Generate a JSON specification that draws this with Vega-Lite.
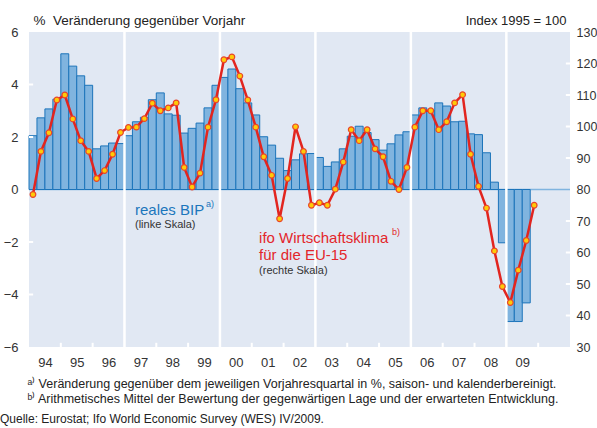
{
  "$schema": "https://vega.github.io/schema/vega-lite/v6.json",
  "width": 541,
  "height": 315,
  "autosize": {"type": "none"},
  "padding": {"left": 29, "top": 32, "right": 27, "bottom": 81},
  "background": "white",
  "config": {
    "view": {"fill": "#e1e8f3", "stroke": null},
    "font": "Liberation Sans",
    "axis": {"grid": false, "domain": false, "ticks": false, "labelColor": "#333333", "titleColor": "#222222", "titleFontWeight": "normal", "labelFont": "Liberation Sans", "titleFont": "Liberation Sans"}
  },
  "title": {
    "text": "Quelle: Eurostat; Ifo World Economic Survey (WES) IV/2009.",
    "orient": "bottom",
    "anchor": "start",
    "frame": "group",
    "dx": -29,
    "offset": 9,
    "fontSize": 12,
    "fontWeight": "normal",
    "color": "#222222",
    "font": "Liberation Sans"
  },
  "datasets": {
    "quartale": [
      {"q": "1994Q1", "von": 1994.0, "bis": 1994.25, "mitte": 1994.125, "bip": 2.05, "ifo": 78.4},
      {"q": "1994Q2", "von": 1994.25, "bis": 1994.5, "mitte": 1994.375, "bip": 2.73, "ifo": 92.1},
      {"q": "1994Q3", "von": 1994.5, "bis": 1994.75, "mitte": 1994.625, "bip": 3.07, "ifo": 98.0},
      {"q": "1994Q4", "von": 1994.75, "bis": 1995.0, "mitte": 1994.875, "bip": 3.44, "ifo": 108.4},
      {"q": "1995Q1", "von": 1995.0, "bis": 1995.25, "mitte": 1995.125, "bip": 5.17, "ifo": 110.0},
      {"q": "1995Q2", "von": 1995.25, "bis": 1995.5, "mitte": 1995.375, "bip": 4.70, "ifo": 102.4},
      {"q": "1995Q3", "von": 1995.5, "bis": 1995.75, "mitte": 1995.625, "bip": 4.33, "ifo": 95.5},
      {"q": "1995Q4", "von": 1995.75, "bis": 1996.0, "mitte": 1995.875, "bip": 3.97, "ifo": 92.1},
      {"q": "1996Q1", "von": 1996.0, "bis": 1996.25, "mitte": 1996.125, "bip": 1.55, "ifo": 83.5},
      {"q": "1996Q2", "von": 1996.25, "bis": 1996.5, "mitte": 1996.375, "bip": 1.66, "ifo": 86.0},
      {"q": "1996Q3", "von": 1996.5, "bis": 1996.75, "mitte": 1996.625, "bip": 1.77, "ifo": 91.2},
      {"q": "1996Q4", "von": 1996.75, "bis": 1997.0, "mitte": 1996.875, "bip": 1.75, "ifo": 98.1},
      {"q": "1997Q1", "von": 1997.0, "bis": 1997.25, "mitte": 1997.125, "bip": 2.05, "ifo": 99.7},
      {"q": "1997Q2", "von": 1997.25, "bis": 1997.5, "mitte": 1997.375, "bip": 2.58, "ifo": 99.8},
      {"q": "1997Q3", "von": 1997.5, "bis": 1997.75, "mitte": 1997.625, "bip": 2.75, "ifo": 102.5},
      {"q": "1997Q4", "von": 1997.75, "bis": 1998.0, "mitte": 1997.875, "bip": 3.42, "ifo": 107.4},
      {"q": "1998Q1", "von": 1998.0, "bis": 1998.25, "mitte": 1998.125, "bip": 3.68, "ifo": 105.0},
      {"q": "1998Q2", "von": 1998.25, "bis": 1998.5, "mitte": 1998.375, "bip": 2.88, "ifo": 105.9},
      {"q": "1998Q3", "von": 1998.5, "bis": 1998.75, "mitte": 1998.625, "bip": 2.83, "ifo": 107.5},
      {"q": "1998Q4", "von": 1998.75, "bis": 1999.0, "mitte": 1998.875, "bip": 2.15, "ifo": 87.0},
      {"q": "1999Q1", "von": 1999.0, "bis": 1999.25, "mitte": 1999.125, "bip": 2.33, "ifo": 80.8},
      {"q": "1999Q2", "von": 1999.25, "bis": 1999.5, "mitte": 1999.375, "bip": 2.53, "ifo": 85.2},
      {"q": "1999Q3", "von": 1999.5, "bis": 1999.75, "mitte": 1999.625, "bip": 3.11, "ifo": 99.8},
      {"q": "1999Q4", "von": 1999.75, "bis": 2000.0, "mitte": 1999.875, "bip": 3.97, "ifo": 108.5},
      {"q": "2000Q1", "von": 2000.0, "bis": 2000.25, "mitte": 2000.125, "bip": 4.27, "ifo": 121.2},
      {"q": "2000Q2", "von": 2000.25, "bis": 2000.5, "mitte": 2000.375, "bip": 4.59, "ifo": 122.1},
      {"q": "2000Q3", "von": 2000.5, "bis": 2000.75, "mitte": 2000.625, "bip": 3.84, "ifo": 116.0},
      {"q": "2000Q4", "von": 2000.75, "bis": 2001.0, "mitte": 2000.875, "bip": 3.30, "ifo": 108.4},
      {"q": "2001Q1", "von": 2001.0, "bis": 2001.25, "mitte": 2001.125, "bip": 2.84, "ifo": 99.8},
      {"q": "2001Q2", "von": 2001.25, "bis": 2001.5, "mitte": 2001.375, "bip": 2.01, "ifo": 90.4},
      {"q": "2001Q3", "von": 2001.5, "bis": 2001.75, "mitte": 2001.625, "bip": 1.69, "ifo": 84.5},
      {"q": "2001Q4", "von": 2001.75, "bis": 2002.0, "mitte": 2001.875, "bip": 1.19, "ifo": 70.7},
      {"q": "2002Q1", "von": 2002.0, "bis": 2002.25, "mitte": 2002.125, "bip": 0.72, "ifo": 83.5},
      {"q": "2002Q2", "von": 2002.25, "bis": 2002.5, "mitte": 2002.375, "bip": 1.13, "ifo": 99.9},
      {"q": "2002Q3", "von": 2002.5, "bis": 2002.75, "mitte": 2002.625, "bip": 1.36, "ifo": 92.1},
      {"q": "2002Q4", "von": 2002.75, "bis": 2003.0, "mitte": 2002.875, "bip": 1.37, "ifo": 75.0},
      {"q": "2003Q1", "von": 2003.0, "bis": 2003.25, "mitte": 2003.125, "bip": 1.22, "ifo": 75.8},
      {"q": "2003Q2", "von": 2003.25, "bis": 2003.5, "mitte": 2003.375, "bip": 0.88, "ifo": 75.0},
      {"q": "2003Q3", "von": 2003.5, "bis": 2003.75, "mitte": 2003.625, "bip": 1.05, "ifo": 80.1},
      {"q": "2003Q4", "von": 2003.75, "bis": 2004.0, "mitte": 2003.875, "bip": 1.55, "ifo": 88.7},
      {"q": "2004Q1", "von": 2004.0, "bis": 2004.25, "mitte": 2004.125, "bip": 2.03, "ifo": 99.0},
      {"q": "2004Q2", "von": 2004.25, "bis": 2004.5, "mitte": 2004.375, "bip": 2.41, "ifo": 95.5},
      {"q": "2004Q3", "von": 2004.5, "bis": 2004.75, "mitte": 2004.625, "bip": 2.17, "ifo": 99.0},
      {"q": "2004Q4", "von": 2004.75, "bis": 2005.0, "mitte": 2004.875, "bip": 1.90, "ifo": 92.9},
      {"q": "2005Q1", "von": 2005.0, "bis": 2005.25, "mitte": 2005.125, "bip": 1.50, "ifo": 90.4},
      {"q": "2005Q2", "von": 2005.25, "bis": 2005.5, "mitte": 2005.375, "bip": 1.74, "ifo": 82.6},
      {"q": "2005Q3", "von": 2005.5, "bis": 2005.75, "mitte": 2005.625, "bip": 2.08, "ifo": 80.0},
      {"q": "2005Q4", "von": 2005.75, "bis": 2006.0, "mitte": 2005.875, "bip": 2.20, "ifo": 87.0},
      {"q": "2006Q1", "von": 2006.0, "bis": 2006.25, "mitte": 2006.125, "bip": 2.84, "ifo": 99.8},
      {"q": "2006Q2", "von": 2006.25, "bis": 2006.5, "mitte": 2006.375, "bip": 3.11, "ifo": 105.0},
      {"q": "2006Q3", "von": 2006.5, "bis": 2006.75, "mitte": 2006.625, "bip": 3.01, "ifo": 105.0},
      {"q": "2006Q4", "von": 2006.75, "bis": 2007.0, "mitte": 2006.875, "bip": 3.30, "ifo": 99.0},
      {"q": "2007Q1", "von": 2007.0, "bis": 2007.25, "mitte": 2007.125, "bip": 3.18, "ifo": 101.5},
      {"q": "2007Q2", "von": 2007.25, "bis": 2007.5, "mitte": 2007.375, "bip": 2.58, "ifo": 107.5},
      {"q": "2007Q3", "von": 2007.5, "bis": 2007.75, "mitte": 2007.625, "bip": 2.60, "ifo": 110.1},
      {"q": "2007Q4", "von": 2007.75, "bis": 2008.0, "mitte": 2007.875, "bip": 2.12, "ifo": 91.2},
      {"q": "2008Q1", "von": 2008.0, "bis": 2008.25, "mitte": 2008.125, "bip": 2.09, "ifo": 81.0},
      {"q": "2008Q2", "von": 2008.25, "bis": 2008.5, "mitte": 2008.375, "bip": 1.40, "ifo": 74.1},
      {"q": "2008Q3", "von": 2008.5, "bis": 2008.75, "mitte": 2008.625, "bip": 0.28, "ifo": 60.5},
      {"q": "2008Q4", "von": 2008.75, "bis": 2009.0, "mitte": 2008.875, "bip": -2.03, "ifo": 49.2},
      {"q": "2009Q1", "von": 2009.0, "bis": 2009.25, "mitte": 2009.125, "bip": -5.03, "ifo": 44.1},
      {"q": "2009Q2", "von": 2009.25, "bis": 2009.5, "mitte": 2009.375, "bip": -5.03, "ifo": 54.4},
      {"q": "2009Q3", "von": 2009.5, "bis": 2009.75, "mitte": 2009.625, "bip": -4.32, "ifo": 63.8},
      {"q": "2009Q4", "von": 2009.75, "bis": 2010.0, "mitte": 2009.875, "bip": null, "ifo": 75.0}
    ]
  },
  "layer": [
    {
      "layer": [
        {
          "data": {"values": [{"v": 0}]},
          "mark": {"type": "rule", "color": "#80b4df", "strokeWidth": 1.5},
          "encoding": {
            "y": {"field": "v", "type": "quantitative", "scale": {"domain": [-6, 6], "nice": false, "zero": false}, "axis": null}
          }
        },
        {
          "data": {"name": "quartale"},
          "transform": [{"filter": "datum.bip != null"}],
          "mark": {"type": "bar", "fill": "#80b4df", "stroke": "#1c74ba", "strokeWidth": 1},
          "encoding": {
            "x": {
              "field": "von", "type": "quantitative",
              "scale": {"domain": [1994, 2011], "nice": false, "zero": false},
              "axis": {
                "orient": "bottom",
                "values": [1994.5, 1995.5, 1996.5, 1997.5, 1998.5, 1999.5, 2000.5, 2001.5, 2002.5, 2003.5, 2004.5, 2005.5, 2006.5, 2007.5, 2008.5, 2009.5],
                "labelExpr": "format(floor(datum.value) % 100, '02d')",
                "labelFontSize": 13,
                "labelPadding": 9,
                "labelFlush": false,
                "labelOverlap": false,
                "title": ["ᵃ⁾ Veränderung gegenüber dem jeweiligen Vorjahresquartal in %, saison- und kalenderbereinigt.", "ᵇ⁾ Arithmetisches Mittel der Bewertung der gegenwärtigen Lage und der erwarteten Entwicklung."],
                "titleFontSize": 12.5,
                "titleAlign": "left",
                "titleAnchor": "start",
                "titleBaseline": "alphabetic",
                "titleX": -2,
                "titleY": 40,
                "titleLineHeight": 15
              }
            },
            "x2": {"field": "bis"},
            "y": {
              "field": "bip", "type": "quantitative",
              "scale": {"domain": [-6, 6], "nice": false, "zero": false},
              "axis": {
                "orient": "left",
                "values": [-6, -4, -2, 0, 2, 4, 6],
                "labelFontSize": 13,
                "labelPadding": 11,
                "title": "%\u00a0\u00a0Veränderung gegenüber Vorjahr",
                "titleAngle": 0,
                "titleAlign": "left",
                "titleBaseline": "middle",
                "titleFontSize": 13.5,
                "titleX": 4,
                "titleY": -12
              }
            },
            "y2": {"datum": 0}
          }
        },
        {
          "data": {"values": [{"j": 1997}, {"j": 2000}, {"j": 2003}, {"j": 2006}, {"j": 2009}]},
          "mark": {"type": "rule", "color": "white", "strokeWidth": 2.5},
          "encoding": {"x": {"field": "j", "type": "quantitative", "axis": null}}
        },
        {
          "data": {"values": [{"j": 1995}, {"j": 1996}, {"j": 1998}, {"j": 1999}, {"j": 2001}, {"j": 2002}, {"j": 2004}, {"j": 2005}, {"j": 2007}, {"j": 2008}, {"j": 2010}]},
          "mark": {"type": "rule", "color": "white", "strokeWidth": 2},
          "encoding": {
            "x": {"field": "j", "type": "quantitative", "axis": null},
            "y": {"datum": -6, "type": "quantitative", "axis": null},
            "y2": {"datum": -5.84}
          }
        },
        {
          "data": {"values": [{"v": 4}, {"v": 2}, {"v": -2}, {"v": -4}]},
          "mark": {"type": "rule", "color": "white", "strokeWidth": 2},
          "encoding": {
            "y": {"field": "v", "type": "quantitative", "axis": null},
            "x": {"datum": 1994, "type": "quantitative", "axis": null},
            "x2": {"datum": 1994.13}
          }
        },
        {
          "data": {"values": [{"t": "reales BIP"}]},
          "mark": {"type": "text", "align": "left", "baseline": "alphabetic", "fontSize": 15, "color": "#1b76bc", "font": "Liberation Sans"},
          "encoding": {"x": {"datum": 1997.33, "type": "quantitative", "axis": null}, "y": {"datum": -0.98, "type": "quantitative", "axis": null}, "text": {"field": "t"}}
        },
        {
          "data": {"values": [{"t": "a)"}]},
          "mark": {"type": "text", "align": "left", "baseline": "alphabetic", "fontSize": 9, "color": "#1b76bc", "font": "Liberation Sans"},
          "encoding": {"x": {"datum": 1999.56, "type": "quantitative", "axis": null}, "y": {"datum": -0.68, "type": "quantitative", "axis": null}, "text": {"field": "t"}}
        },
        {
          "data": {"values": [{"t": "(linke Skala)"}]},
          "mark": {"type": "text", "align": "left", "baseline": "alphabetic", "fontSize": 11, "color": "#333333", "font": "Liberation Sans"},
          "encoding": {"x": {"datum": 1997.33, "type": "quantitative", "axis": null}, "y": {"datum": -1.47, "type": "quantitative", "axis": null}, "text": {"field": "t"}}
        },
        {
          "data": {"values": [{"t": "ifo Wirtschaftsklima"}]},
          "mark": {"type": "text", "align": "left", "baseline": "alphabetic", "fontSize": 15, "color": "#e3262b", "font": "Liberation Sans"},
          "encoding": {"x": {"datum": 2001.23, "type": "quantitative", "axis": null}, "y": {"datum": -2.05, "type": "quantitative", "axis": null}, "text": {"field": "t"}}
        },
        {
          "data": {"values": [{"t": "für die EU-15"}]},
          "mark": {"type": "text", "align": "left", "baseline": "alphabetic", "fontSize": 15, "color": "#e3262b", "font": "Liberation Sans"},
          "encoding": {"x": {"datum": 2001.23, "type": "quantitative", "axis": null}, "y": {"datum": -2.69, "type": "quantitative", "axis": null}, "text": {"field": "t"}}
        },
        {
          "data": {"values": [{"t": "b)"}]},
          "mark": {"type": "text", "align": "left", "baseline": "alphabetic", "fontSize": 9, "color": "#e3262b", "font": "Liberation Sans"},
          "encoding": {"x": {"datum": 2005.41, "type": "quantitative", "axis": null}, "y": {"datum": -1.72, "type": "quantitative", "axis": null}, "text": {"field": "t"}}
        },
        {
          "data": {"values": [{"t": "(rechte Skala)"}]},
          "mark": {"type": "text", "align": "left", "baseline": "alphabetic", "fontSize": 11, "color": "#333333", "font": "Liberation Sans"},
          "encoding": {"x": {"datum": 2001.23, "type": "quantitative", "axis": null}, "y": {"datum": -3.23, "type": "quantitative", "axis": null}, "text": {"field": "t"}}
        }
      ],
      "resolve": {"axis": {"x": "independent", "y": "independent"}}
    },
    {
      "layer": [
        {
          "data": {"values": [{"v": 120}, {"v": 110}, {"v": 100}, {"v": 90}, {"v": 70}, {"v": 60}, {"v": 50}, {"v": 40}]},
          "mark": {"type": "rule", "color": "white", "strokeWidth": 2},
          "encoding": {
            "y": {"field": "v", "type": "quantitative", "scale": {"domain": [30, 130], "nice": false, "zero": false}, "axis": null},
            "x": {"datum": 2010.87, "type": "quantitative", "axis": null},
            "x2": {"datum": 2011}
          }
        },
        {
          "data": {"name": "quartale"},
          "mark": {"type": "line", "color": "#e2251f", "strokeWidth": 2.5},
          "encoding": {
            "x": {"field": "mitte", "type": "quantitative", "axis": null},
            "y": {
              "field": "ifo", "type": "quantitative",
              "scale": {"domain": [30, 130], "nice": false, "zero": false},
              "axis": {
                "orient": "right",
                "values": [30, 40, 50, 60, 70, 80, 90, 100, 110, 120, 130],
                "labelFontSize": 12.5,
                "labelPadding": 6,
                "title": "Index 1995 = 100",
                "titleAngle": 0,
                "titleAlign": "right",
                "titleBaseline": "middle",
                "titleFontSize": 13,
                "titleX": -4,
                "titleY": -12
              }
            }
          }
        },
        {
          "data": {"name": "quartale"},
          "mark": {"type": "point", "filled": true, "fill": "#ffcb08", "stroke": "#e8452a", "strokeWidth": 1.2, "size": 32, "opacity": 1},
          "encoding": {
            "x": {"field": "mitte", "type": "quantitative", "axis": null},
            "y": {"field": "ifo", "type": "quantitative", "axis": null}
          }
        }
      ],
      "resolve": {"axis": {"x": "independent", "y": "independent"}}
    }
  ],
  "resolve": {"scale": {"y": "independent"}, "axis": {"x": "independent", "y": "independent"}}
}
